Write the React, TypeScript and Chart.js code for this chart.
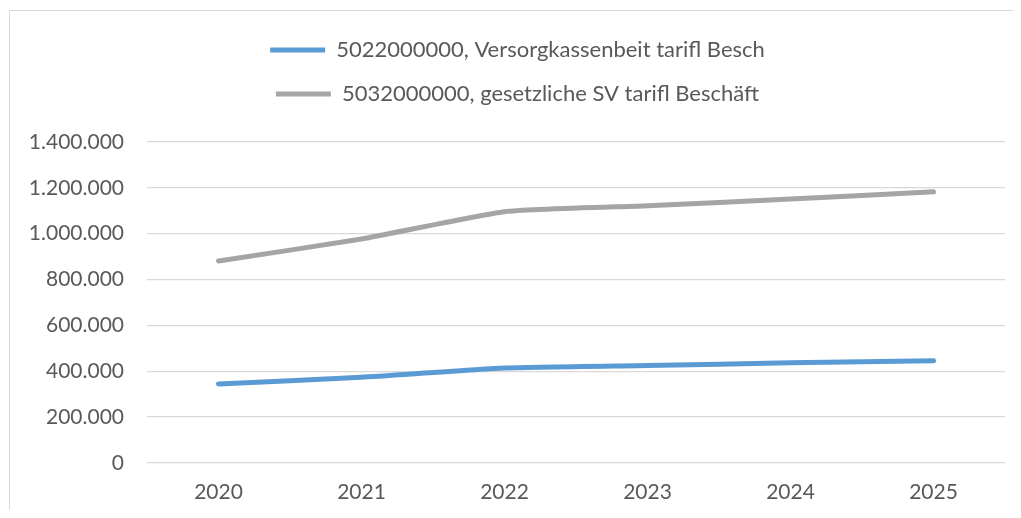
import React, { useEffect, useRef } from "react";
import { Chart, registerables } from "chart.js";

Chart.register(...registerables);

const categories = ["2020", "2021", "2022", "2023", "2024", "2025"];
const seriesNames = [
  "5022000000, Versorgkassenbeit tarifl Besch",
  "5032000000, gesetzliche SV tarifl Beschäft",
];
const versorgValues = [345000, 374000, 414000, 425000, 437000, 446000];
const gesetzlValues = [881000, 977000, 1096000, 1122000, 1151000, 1183000];
const seriesColors = ["#5B9BD5", "#A5A5A5"];
const yMin = 0;
const yMax = 1400000;
const yStep = 200000;

const FONT = "Lato, 'Open Sans', sans-serif";
const TEXT = "#595959";

function fmtDe(v: number): string {
  const s = Math.round(v).toString();
  return s.replace(/\B(?=(\d{3})+(?!\d))/g, ".");
}

const legendSpacer = {
  id: "legendSpacer",
  afterInit(chart: any) {
    const lg = chart.legend;
    if (lg && !lg.__patched) {
      const orig = lg.fit.bind(lg);
      lg.fit = function () {
        orig();
        this.height += 27;
      };
      lg.__patched = true;
    }
  },
};

export default function App() {
  const ref = useRef<HTMLCanvasElement | null>(null);
  useEffect(() => {
    document.body.style.overflow = "hidden";
    if (!ref.current) return;
    const chart = new Chart(ref.current, {
      type: "line",
      data: {
        labels: categories,
        datasets: [
          {
            label: seriesNames[0],
            data: versorgValues,
            borderColor: seriesColors[0],
            backgroundColor: seriesColors[0],
            borderWidth: 5,
            pointRadius: 0,
            tension: 0.15,
            borderCapStyle: "round",
            borderJoinStyle: "round",
          },
          {
            label: seriesNames[1],
            data: gesetzlValues,
            borderColor: seriesColors[1],
            backgroundColor: seriesColors[1],
            borderWidth: 5,
            pointRadius: 0,
            tension: 0.15,
            borderCapStyle: "round",
            borderJoinStyle: "round",
          },
        ],
      },
      options: {
        responsive: false,
        animation: false,
        layout: { padding: { top: 9, left: 22, right: 8, bottom: 0 } },
        plugins: {
          tooltip: { enabled: false },
          legend: {
            position: "top",
            align: "center",
            labels: {
              color: TEXT,
              font: { family: FONT, size: 22 },
              boxWidth: 55,
              boxHeight: 5,
              padding: 22,
              useBorderRadius: true,
              borderRadius: 2.5,
              generateLabels: (c: any) =>
                c.data.datasets.map((d: any, i: number) => ({
                  text: d.label,
                  fillStyle: d.borderColor,
                  strokeStyle: d.borderColor,
                  lineWidth: 0,
                  hidden: false,
                  datasetIndex: i,
                  fontColor: TEXT,
                })),
            },
          },
        },
        scales: {
          x: {
            offset: true,
            grid: { display: false, drawTicks: false },
            border: { display: false },
            ticks: {
              color: TEXT,
              font: { family: FONT, size: 21 },
              padding: 17,
              maxRotation: 0,
            },
            afterFit: (s: any) => {
              s.height = 47;
            },
          },
          y: {
            min: yMin,
            max: yMax,
            grid: { color: "#D9D9D9", lineWidth: 1.3, drawTicks: false },
            border: { display: false },
            ticks: {
              stepSize: yStep,
              color: TEXT,
              font: { family: FONT, size: 21 },
              padding: 23,
              callback: (v: any) => fmtDe(Number(v)),
            },
            afterFit: (s: any) => {
              s.width = 117;
            },
          },
        },
      },
      plugins: [legendSpacer],
    } as any);
    return () => chart.destroy();
  }, []);
  return (
    <div style={{ position: "relative", width: 1005, height: 502 }}>
      <div
        style={{
          position: "absolute",
          left: 1,
          top: 2,
          width: 1011,
          height: 507,
          borderTop: "1px solid #D9D9D9",
          borderLeft: "1px solid #D9D9D9",
          pointerEvents: "none",
        }}
      />
      <canvas
        ref={ref}
        width={1005}
        height={502}
        style={{ display: "block", position: "relative" }}
      />
    </div>
  );
}
